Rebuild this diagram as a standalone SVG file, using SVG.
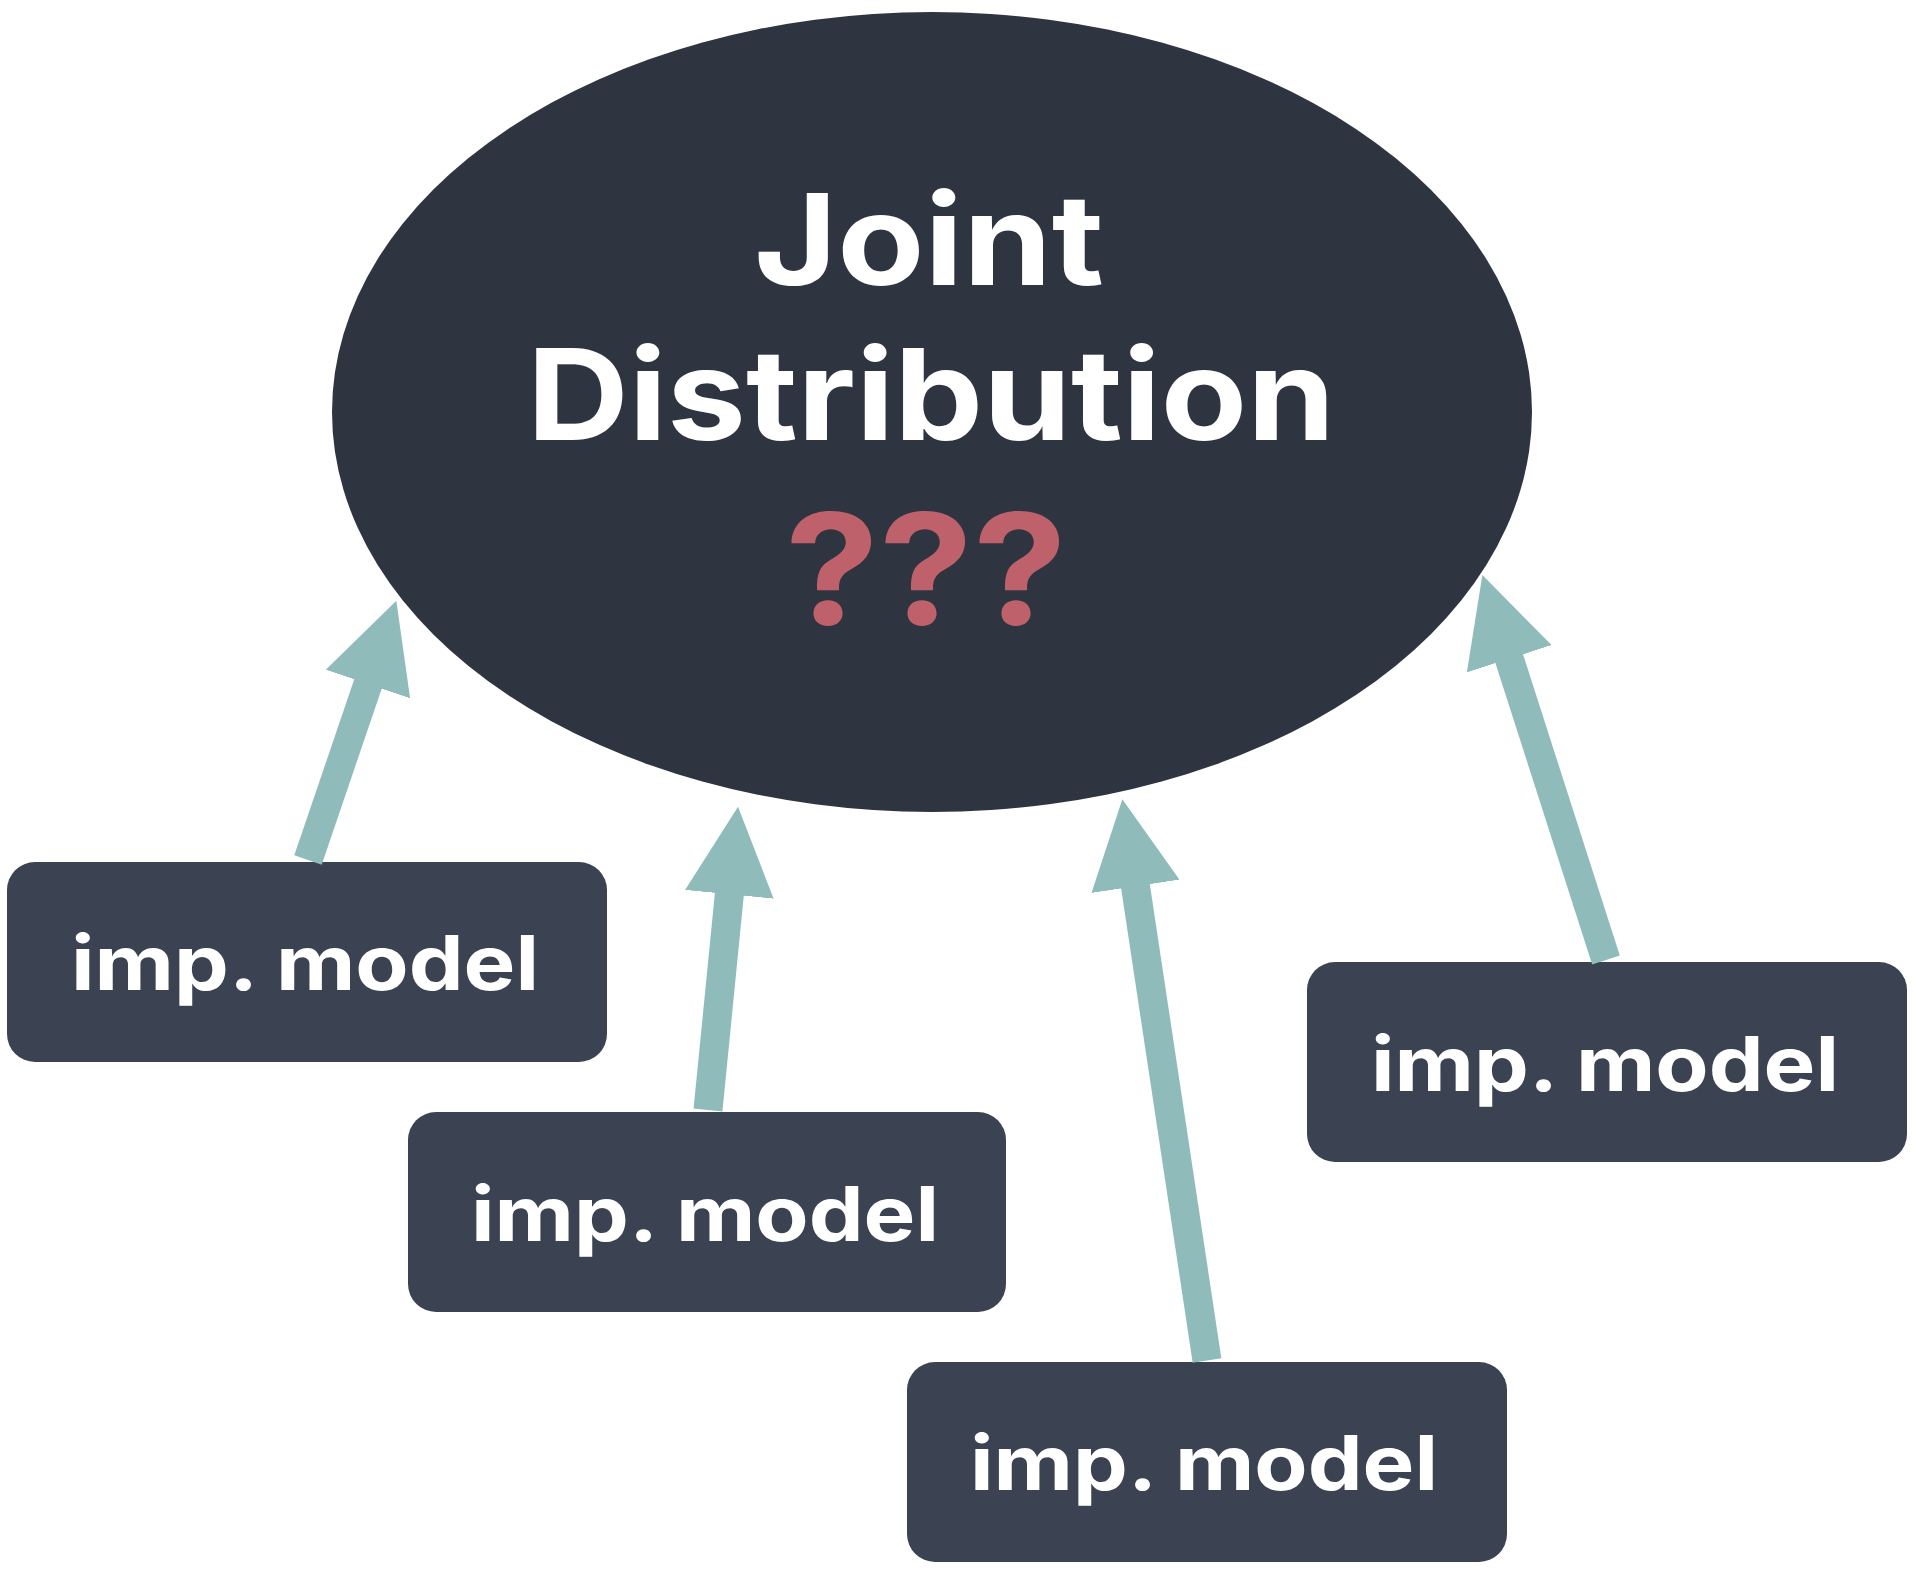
<svg xmlns="http://www.w3.org/2000/svg" width="1915" height="1570" viewBox="0 0 1915 1570">
  <style>
    .box { fill: #3b4252; }
    .lbl { font-family: Inter, "Liberation Sans", Arial, sans-serif; font-weight: bold; font-size: 76px; fill: #ffffff; text-anchor: middle; }
    .title { font-family: Inter, "Liberation Sans", Arial, sans-serif; font-weight: bold; font-size: 126px; fill: #ffffff; text-anchor: middle; }
    .q { font-family: Inter, "Liberation Sans", Arial, sans-serif; font-weight: bold; font-size: 155px; fill: #bf616a; text-anchor: middle; }
    .conn { stroke: #8fbcbb; stroke-width: 29; fill: none; marker-end: url(#head); }
  </style>
  <defs>
    <marker id="head" markerUnits="userSpaceOnUse" viewBox="0 0 88 89" markerWidth="88" markerHeight="89" refX="28" refY="44.5" orient="auto">
      <path d="M0,0 L88,44.5 L0,89 Z" fill="#8fbcbb"/>
    </marker>
  </defs>
  <rect width="1915" height="1570" fill="#ffffff"/>

  <g id="joint">
    <ellipse cx="932" cy="412" rx="600" ry="400" fill="#2e3440"/>
    <text class="title" x="929" y="285" textLength="350" lengthAdjust="spacingAndGlyphs">Joint</text>
    <text class="title" x="931" y="440" textLength="808" lengthAdjust="spacingAndGlyphs">Distribution</text>
    <text class="q" x="926" y="625" textLength="282" lengthAdjust="spacingAndGlyphs">???</text>
  </g>

  <g id="model1">
    <rect class="box" x="7" y="862" width="600" height="200" rx="28"/>
    <text class="lbl" x="305" y="990" textLength="468" lengthAdjust="spacingAndGlyphs">imp. model</text>
  </g>
  <g id="model2">
    <rect class="box" x="408" y="1112" width="598" height="200" rx="28"/>
    <text class="lbl" x="705" y="1241" textLength="468" lengthAdjust="spacingAndGlyphs">imp. model</text>
  </g>
  <g id="model3">
    <rect class="box" x="907" y="1362" width="600" height="200" rx="28"/>
    <text class="lbl" x="1204" y="1490" textLength="468" lengthAdjust="spacingAndGlyphs">imp. model</text>
  </g>
  <g id="model4">
    <rect class="box" x="1307" y="962" width="600" height="200" rx="28"/>
    <text class="lbl" x="1605" y="1091" textLength="468" lengthAdjust="spacingAndGlyphs">imp. model</text>
  </g>

  <g id="connectors">
    <line class="conn" x1="308" y1="860" x2="377.0" y2="657.5"/>
    <line class="conn" x1="708" y1="1110" x2="732.1" y2="866.4"/>
    <line class="conn" x1="1207" y1="1360.5" x2="1131.3" y2="858.6"/>
    <line class="conn" x1="1606" y1="960" x2="1500.7" y2="632.1"/>
  </g>
</svg>
